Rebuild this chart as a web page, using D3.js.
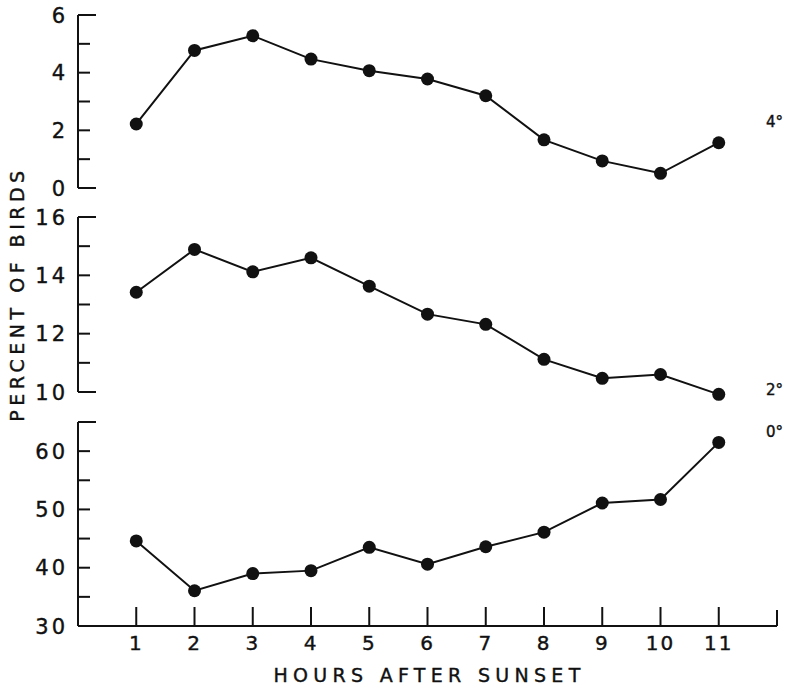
<!DOCTYPE html>
<html>
<head>
<meta charset="utf-8">
<script src="https://cdn.jsdelivr.net/npm/d3@7"></script>
<style>
  body { margin: 0; background: #fff; }
  text { font-family: "DejaVu Sans", sans-serif; fill: #111; stroke: #111; stroke-width: 0.4; }
</style>
</head>
<body>
<div id="chart"></div>
<script>
// hours after sunset
const hours = [1, 2, 3, 4, 5, 6, 7, 8, 9, 10, 11];
// percent of birds, per panel
const series4 = [2.22, 4.77, 5.28, 4.47, 4.07, 3.78, 3.2, 1.67, 0.94, 0.51, 1.57];
const series2 = [13.42, 14.89, 14.12, 14.6, 13.63, 12.67, 12.32, 11.12, 10.47, 10.6, 9.92];
const series0 = [44.6, 36.05, 39.0, 39.5, 43.5, 40.6, 43.6, 46.1, 51.1, 51.7, 61.5];

const panels = [
  { label: "4°", values: series4, domain: [0, 6], range: [188, 15], ticks: [0, 1, 2, 3, 4, 5, 6], labels: [0, 2, 4, 6], labelY: 127 },
  { label: "2°", values: series2, domain: [10, 16], range: [392, 217], ticks: [10, 11, 12, 13, 14, 15, 16], labels: [10, 12, 14, 16], labelY: 395 },
  { label: "0°", values: series0, domain: [30, 65], range: [626, 422], ticks: [35, 40, 45, 50, 55, 60, 65], labels: [30, 40, 50, 60], labelY: 437 }
];

const width = 788, height = 686;
const axisX = 78;

const svg = d3.select("#chart").append("svg")
  .attr("width", width)
  .attr("height", height);

const x = d3.scaleLinear().domain([0, 12]).range([axisX, 777]);

panels.forEach(p => {
  const y = d3.scaleLinear().domain(p.domain).range(p.range);
  const g = svg.append("g");

  // vertical axis line
  g.append("line")
    .attr("x1", axisX).attr("x2", axisX)
    .attr("y1", y(p.domain[0])).attr("y2", y(p.domain[1]))
    .attr("stroke", "#111").attr("stroke-width", 2);

  // ticks pointing inward; ends are longer
  g.selectAll(".tick")
    .data(p.ticks)
    .join("line")
    .attr("x1", axisX)
    .attr("x2", d => (d === p.domain[0] || d === p.domain[1]) ? axisX + 18 : axisX + 12)
    .attr("y1", d => y(d)).attr("y2", d => y(d))
    .attr("stroke", "#111").attr("stroke-width", 2);

  g.selectAll(".lab")
    .data(p.labels)
    .join("text")
    .attr("x", 68)
    .attr("y", d => y(d))
    .attr("dy", "0.36em")
    .attr("text-anchor", "end")
    .attr("font-size", 21)
    .attr("letter-spacing", 3)
    .text(d => d);

  const pts = hours.map((h, i) => [h, p.values[i]]);
  g.append("path")
    .datum(pts)
    .attr("fill", "none")
    .attr("stroke", "#111")
    .attr("stroke-width", 2)
    .attr("d", d3.line().x(d => x(d[0])).y(d => y(d[1])));

  g.selectAll("circle")
    .data(pts)
    .join("circle")
    .attr("cx", d => x(d[0]))
    .attr("cy", d => y(d[1]))
    .attr("r", 6.5)
    .attr("fill", "#111");

  g.append("text")
    .attr("x", 766)
    .attr("y", p.labelY)
    .attr("font-size", 15)
    .text(p.label);
});

// x axis
const yBase = 626;
svg.append("line")
  .attr("x1", axisX).attr("x2", x(12))
  .attr("y1", yBase).attr("y2", yBase)
  .attr("stroke", "#111").attr("stroke-width", 2);

svg.selectAll(".xtick")
  .data(hours.concat([12]))
  .join("line")
  .attr("x1", d => x(d)).attr("x2", d => x(d))
  .attr("y1", yBase)
  .attr("y2", d => d === 12 ? yBase - 16 : yBase - 19)
  .attr("stroke", "#111").attr("stroke-width", 2);

svg.selectAll(".xlab")
  .data(hours)
  .join("text")
  .attr("x", d => x(d))
  .attr("y", 650)
  .attr("text-anchor", "middle")
  .attr("font-size", 20)
  .attr("letter-spacing", 2)
  .text(d => d);

svg.append("text")
  .attr("x", x(6) + 2)
  .attr("y", 682)
  .attr("text-anchor", "middle")
  .attr("font-size", 19)
  .attr("letter-spacing", 5.3)
  .text("HOURS AFTER SUNSET");

svg.append("text")
  .attr("transform", "translate(24,294) rotate(-90)")
  .attr("text-anchor", "middle")
  .attr("font-size", 19)
  .attr("letter-spacing", 4.5)
  .text("PERCENT OF BIRDS");
</script>
</body>
</html>
